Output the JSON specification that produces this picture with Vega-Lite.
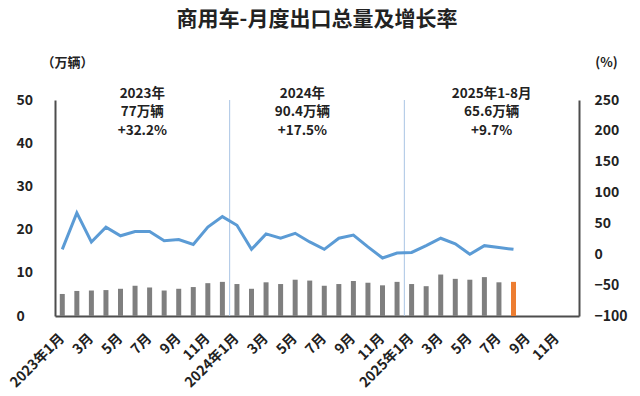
{
  "$schema": "https://vega.github.io/schema/vega-lite/v6.json",
  "width": 524,
  "height": 216,
  "autosize": "none",
  "padding": {"left": 55, "top": 100, "right": 61, "bottom": 80},
  "background": "white",
  "config": {
    "font": "Noto Sans CJK SC",
    "view": {"stroke": null},
    "axis": {"grid": false, "ticks": false, "domainColor": "#4d4d4d", "domainWidth": 2, "labelColor": "#222222", "titleColor": "#222222"}
  },
  "title": {
    "text": "商用车-月度出口总量及增长率",
    "fontSize": 21,
    "fontWeight": "bold",
    "color": "#222222",
    "anchor": "middle",
    "offset": 26
  },
  "datasets": {
    "main": [
      {"month": "2023-01", "export": 5.1, "growth": 8},
      {"month": "2023-02", "export": 5.8, "growth": 67},
      {"month": "2023-03", "export": 5.9, "growth": 20},
      {"month": "2023-04", "export": 6.0, "growth": 44},
      {"month": "2023-05", "export": 6.3, "growth": 30},
      {"month": "2023-06", "export": 7.0, "growth": 37},
      {"month": "2023-07", "export": 6.6, "growth": 37},
      {"month": "2023-08", "export": 5.9, "growth": 22},
      {"month": "2023-09", "export": 6.3, "growth": 24},
      {"month": "2023-10", "export": 6.7, "growth": 16},
      {"month": "2023-11", "export": 7.6, "growth": 44},
      {"month": "2023-12", "export": 7.9, "growth": 61},
      {"month": "2024-01", "export": 7.4, "growth": 47},
      {"month": "2024-02", "export": 6.3, "growth": 8},
      {"month": "2024-03", "export": 7.8, "growth": 33},
      {"month": "2024-04", "export": 7.4, "growth": 26},
      {"month": "2024-05", "export": 8.4, "growth": 34},
      {"month": "2024-06", "export": 8.2, "growth": 20},
      {"month": "2024-07", "export": 7.0, "growth": 8},
      {"month": "2024-08", "export": 7.4, "growth": 26},
      {"month": "2024-09", "export": 8.1, "growth": 31},
      {"month": "2024-10", "export": 7.7, "growth": 12},
      {"month": "2024-11", "export": 7.1, "growth": -6},
      {"month": "2024-12", "export": 7.9, "growth": 2},
      {"month": "2025-01", "export": 7.4, "growth": 3},
      {"month": "2025-02", "export": 6.9, "growth": 14},
      {"month": "2025-03", "export": 9.6, "growth": 26},
      {"month": "2025-04", "export": 8.6, "growth": 17},
      {"month": "2025-05", "export": 8.4, "growth": 0},
      {"month": "2025-06", "export": 9.0, "growth": 14},
      {"month": "2025-07", "export": 7.8, "growth": 11},
      {"month": "2025-08", "export": 7.9, "growth": 8}
    ],
    "splits": [{"month": "2024-01"}, {"month": "2025-01"}],
    "notes": [
      {"month": "2023-07", "text": "2023年\n77万辆\n+32.2%"},
      {"month": "2024-06", "text": "2024年\n90.4万辆\n+17.5%"},
      {"month": "2025-07", "text": "2025年1-8月\n65.6万辆\n+9.7%"}
    ]
  },
  "layer": [
    {
      "layer": [
        {
          "data": {"name": "main"},
          "mark": {"type": "bar", "size": 5},
          "encoding": {
            "x": {
              "field": "month", "type": "ordinal", "sort": null,
              "scale": {"domain": ["2023-01","2023-02","2023-03","2023-04","2023-05","2023-06","2023-07","2023-08","2023-09","2023-10","2023-11","2023-12","2024-01","2024-02","2024-03","2024-04","2024-05","2024-06","2024-07","2024-08","2024-09","2024-10","2024-11","2024-12","2025-01","2025-02","2025-03","2025-04","2025-05","2025-06","2025-07","2025-08","2025-09","2025-10","2025-11","2025-12"], "paddingInner": 0, "paddingOuter": 0},
              "axis": {
                "title": null,
                "values": ["2023-01","2023-03","2023-05","2023-07","2023-09","2023-11","2024-01","2024-03","2024-05","2024-07","2024-09","2024-11","2025-01","2025-03","2025-05","2025-07","2025-09","2025-11"],
                "labelExpr": "substring(datum.value,5,7)=='01' ? substring(datum.value,0,4)+'年1月' : toNumber(substring(datum.value,5,7))+'月'",
                "labelAngle": -45, "labelAlign": "right", "labelBaseline": "middle",
                "labelPadding": 20, "labelFontSize": 14, "labelFontWeight": "bold"
              }
            },
            "y": {
              "field": "export", "type": "quantitative",
              "scale": {"domain": [0, 50], "nice": false},
              "axis": {
                "orient": "left", "values": [0, 10, 20, 30, 40, 50],
                "labelAlign": "left", "labelPadding": 39, "labelFontSize": 14, "labelFontWeight": "bold",
                "title": "（万辆）", "titleAngle": 0, "titleX": 12, "titleY": -38,
                "titleAlign": "center", "titleBaseline": "middle", "titleFontSize": 13, "titleFontWeight": "bold"
              }
            },
            "color": {"condition": {"test": "datum.month == '2025-08'", "value": "#ed7d31"}, "value": "#7f7f7f"}
          }
        },
        {
          "data": {"name": "splits"},
          "mark": {"type": "rule", "color": "#a9c4e4", "strokeWidth": 1},
          "encoding": {
            "x": {"field": "month", "type": "ordinal", "sort": null, "bandPosition": 0}
          }
        },
        {
          "data": {"name": "notes"},
          "mark": {"type": "text", "lineBreak": "\n", "fontSize": 13.5, "fontWeight": "bold", "baseline": "top", "align": "center", "lineHeight": 18.5, "color": "#222222"},
          "encoding": {
            "x": {"field": "month", "type": "ordinal", "sort": null, "bandPosition": 0},
            "y": {"datum": 53.1, "type": "quantitative", "scale": {"domain": [0, 50], "nice": false}},
            "text": {"field": "text"}
          }
        }
      ]
    },
    {
      "data": {"name": "main"},
      "mark": {"type": "line", "color": "#5b9bd5", "strokeWidth": 3},
      "encoding": {
        "x": {"field": "month", "type": "ordinal", "sort": null},
        "y": {
          "field": "growth", "type": "quantitative",
          "scale": {"domain": [-100, 250], "nice": false},
          "axis": {
            "orient": "right", "values": [-100, -50, 0, 50, 100, 150, 200, 250],
            "labelAlign": "left", "labelPadding": 15, "labelFontSize": 14, "labelFontWeight": "bold",
            "title": "(%)", "titleAngle": 0, "titleX": 27, "titleY": -38,
            "titleAlign": "center", "titleBaseline": "middle", "titleFontSize": 13, "titleFontWeight": "bold"
          }
        }
      }
    }
  ],
  "resolve": {"scale": {"y": "independent"}, "axis": {"y": "independent"}}
}
